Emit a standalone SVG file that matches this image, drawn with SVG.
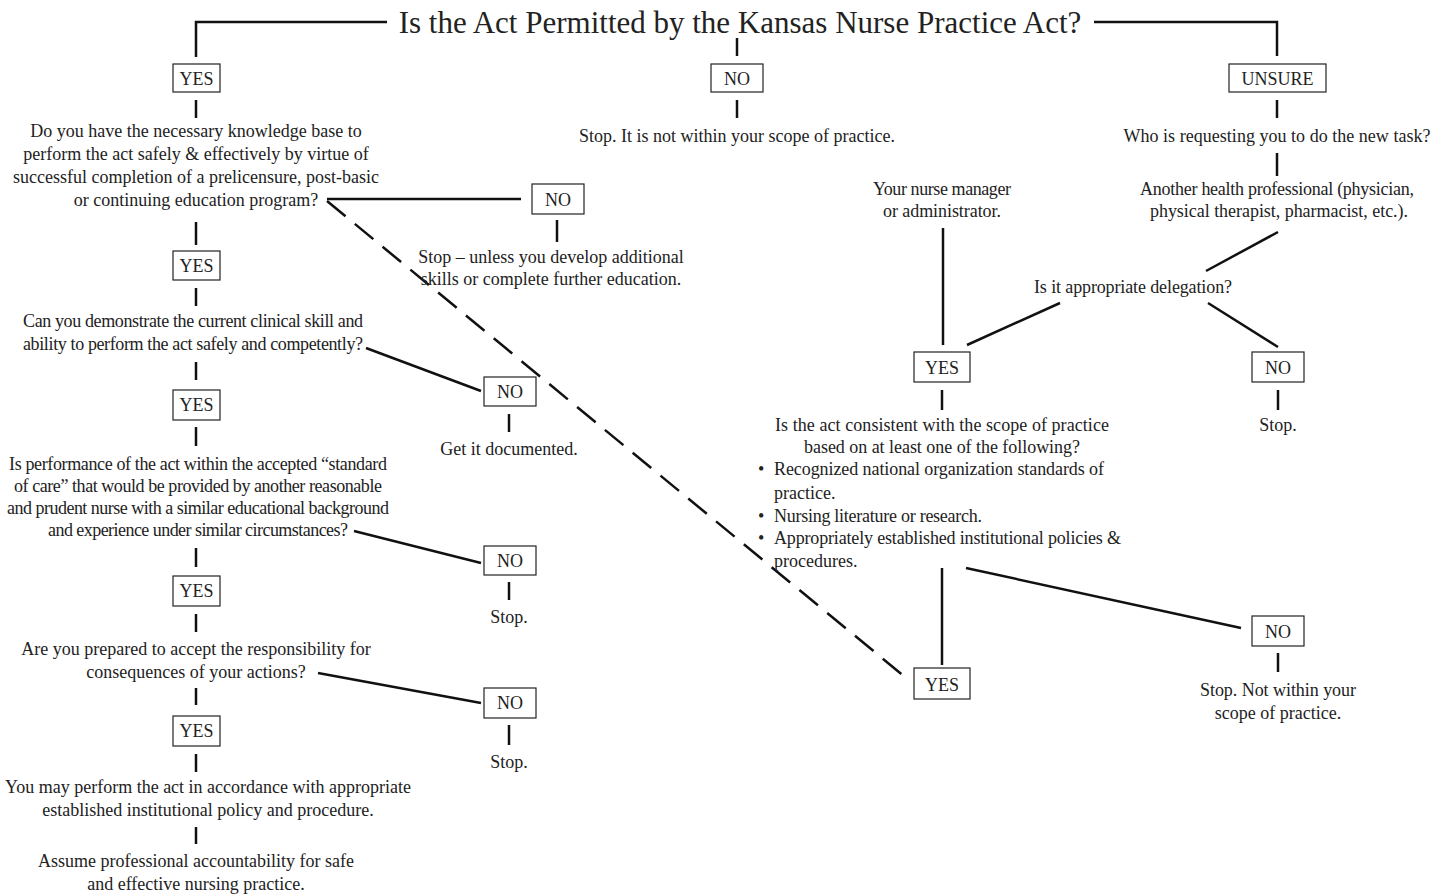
<svg xmlns="http://www.w3.org/2000/svg" width="1447" height="896" viewBox="0 0 1447 896">
<style>
text{font-family:"Liberation Serif","Times New Roman",serif;font-size:18px;fill:#222;}
.c{text-anchor:middle;}
.title{font-size:31px;}
.box{fill:#fff;stroke:#222;stroke-width:1.2;}
.ln{stroke:#111;stroke-width:2.5;fill:none;}
.dash{stroke:#111;stroke-width:2.5;fill:none;stroke-dasharray:24 12;}
</style>
<rect width="1447" height="896" fill="#fff"/>
<g id="connectors">
<polyline class="ln" points="196,57 196,22 387,22"/>
<polyline class="ln" points="1094,22 1277,22 1277,56"/>
<line class="ln" x1="737" y1="38" x2="737" y2="56"/>
<line class="ln" x1="196" y1="100" x2="196" y2="118"/>
<line class="ln" x1="196" y1="222" x2="196" y2="245"/>
<line class="ln" x1="196" y1="288" x2="196" y2="306"/>
<line class="ln" x1="196" y1="362" x2="196" y2="380"/>
<line class="ln" x1="196" y1="427" x2="196" y2="446"/>
<line class="ln" x1="196" y1="548" x2="196" y2="567"/>
<line class="ln" x1="196" y1="614" x2="196" y2="632"/>
<line class="ln" x1="196" y1="688" x2="196" y2="705"/>
<line class="ln" x1="196" y1="754" x2="196" y2="772"/>
<line class="ln" x1="196" y1="827" x2="196" y2="844"/>
<line class="ln" x1="327" y1="199" x2="521" y2="199"/>
<line class="ln" x1="557" y1="220" x2="557" y2="242"/>
<line class="ln" x1="366" y1="348" x2="481" y2="391"/>
<line class="ln" x1="509" y1="414" x2="509" y2="432"/>
<line class="ln" x1="354" y1="531" x2="481" y2="563"/>
<line class="ln" x1="509" y1="582" x2="509" y2="600"/>
<line class="ln" x1="318" y1="673" x2="481" y2="703"/>
<line class="ln" x1="509" y1="725" x2="509" y2="745"/>
<line class="dash" x1="327" y1="201" x2="905" y2="677"/>
<line class="ln" x1="737" y1="100" x2="737" y2="118"/>
<line class="ln" x1="1277" y1="100" x2="1277" y2="118"/>
<line class="ln" x1="1277" y1="153" x2="1277" y2="176"/>
<line class="ln" x1="1278" y1="232" x2="1206" y2="271"/>
<line class="ln" x1="943" y1="228" x2="943" y2="345"/>
<line class="ln" x1="1060" y1="303" x2="967" y2="345"/>
<line class="ln" x1="1208" y1="303" x2="1278" y2="347"/>
<line class="ln" x1="942" y1="390" x2="942" y2="410"/>
<line class="ln" x1="1278" y1="390" x2="1278" y2="410"/>
<line class="ln" x1="942" y1="568" x2="942" y2="665"/>
<line class="ln" x1="966" y1="568" x2="1241" y2="628"/>
<line class="ln" x1="1278" y1="653" x2="1278" y2="672"/>
</g>
<g id="title"><text class="c title" x="740" y="33">Is the Act Permitted by the Kansas Nurse Practice Act?</text></g>
<g id="yes-top"><rect class="box" x="173" y="64" width="47" height="28"/><text class="c" x="196.5" y="85">YES</text></g>
<g id="no-top"><rect class="box" x="711" y="64" width="52" height="28"/><text class="c" x="737" y="85">NO</text></g>
<g id="unsure-top"><rect class="box" x="1229" y="64" width="97" height="28"/><text class="c" x="1277.5" y="85">UNSURE</text></g>
<g id="q1"><text class="c" x="196" y="137">Do you have the necessary knowledge base to</text><text class="c" x="196" y="160">perform the act safely &amp; effectively by virtue of</text><text class="c" x="196" y="183">successful completion of a prelicensure, post-basic</text><text class="c" x="196" y="206">or continuing education program?</text></g>
<g id="yes1"><rect class="box" x="173" y="251" width="47" height="29"/><text class="c" x="196.5" y="272">YES</text></g>
<g id="q2"><text class="c" x="193" y="327" textLength="340">Can you demonstrate the current clinical skill and</text><text class="c" x="193" y="350" textLength="340">ability to perform the act safely and competently?</text></g>
<g id="yes2"><rect class="box" x="173" y="390" width="47" height="30"/><text class="c" x="196.5" y="411">YES</text></g>
<g id="q3"><text class="c" x="198" y="470" textLength="378">Is performance of the act within the accepted “standard</text><text class="c" x="198" y="492" textLength="368">of care” that would be provided by another reasonable</text><text class="c" x="198" y="514" textLength="382">and prudent nurse with a similar educational background</text><text class="c" x="198" y="536" textLength="300">and experience under similar circumstances?</text></g>
<g id="yes3"><rect class="box" x="173" y="576" width="47" height="30"/><text class="c" x="196.5" y="597">YES</text></g>
<g id="q4"><text class="c" x="196" y="655">Are you prepared to accept the responsibility for</text><text class="c" x="196" y="678">consequences of your actions?</text></g>
<g id="yes4"><rect class="box" x="173" y="716" width="47" height="30"/><text class="c" x="196.5" y="737">YES</text></g>
<g id="perform"><text class="c" x="208" y="793">You may perform the act in accordance with appropriate</text><text class="c" x="208" y="816">established institutional policy and procedure.</text></g>
<g id="assume"><text class="c" x="196" y="867">Assume professional accountability for safe</text><text class="c" x="196" y="890">and effective nursing practice.</text></g>
<g id="no1"><rect class="box" x="532" y="184" width="52" height="30"/><text class="c" x="558" y="206">NO</text></g>
<g id="stop-unless"><text class="c" x="551" y="263">Stop – unless you develop additional</text><text class="c" x="551" y="285">skills or complete further education.</text></g>
<g id="no2"><rect class="box" x="484" y="377" width="52" height="29"/><text class="c" x="510" y="398">NO</text></g>
<g id="documented"><text class="c" x="509" y="455">Get it documented.</text></g>
<g id="no3"><rect class="box" x="484" y="546" width="52" height="29"/><text class="c" x="510" y="567">NO</text></g>
<g id="stop3"><text class="c" x="509" y="623">Stop.</text></g>
<g id="no4"><rect class="box" x="484" y="688" width="52" height="30"/><text class="c" x="510" y="709">NO</text></g>
<g id="stop4"><text class="c" x="509" y="768">Stop.</text></g>
<g id="stop-no-top"><text class="c" x="737" y="142">Stop. It is not within your scope of practice.</text></g>
<g id="who"><text class="c" x="1277" y="142" textLength="307">Who is requesting you to do the new task?</text></g>
<g id="another"><text class="c" x="1277" y="195" textLength="274">Another health professional (physician,</text><text class="c" x="1279" y="217" textLength="258">physical therapist, pharmacist, etc.).</text></g>
<g id="manager"><text class="c" x="942" y="195" textLength="138">Your nurse manager</text><text class="c" x="942" y="217" textLength="118">or administrator.</text></g>
<g id="delegation"><text class="c" x="1133" y="293" textLength="198">Is it appropriate delegation?</text></g>
<g id="yes-r1"><rect class="box" x="914" y="352" width="56" height="30"/><text class="c" x="942" y="374">YES</text></g>
<g id="no-r1"><rect class="box" x="1252" y="352" width="52" height="30"/><text class="c" x="1278" y="374">NO</text></g>
<g id="stop-r1"><text class="c" x="1278" y="431">Stop.</text></g>
<g id="consistent"><text class="c" x="942" y="431" textLength="334">Is the act consistent with the scope of practice</text><text class="c" x="942" y="453" textLength="276">based on at least one of the following?</text>
<text x="758" y="475">•</text><text x="774" y="475" textLength="330">Recognized national organization standards of</text><text x="774" y="499">practice.</text>
<text x="758" y="522">•</text><text x="774" y="522" textLength="208">Nursing literature or research.</text>
<text x="758" y="544">•</text><text x="774" y="544" textLength="347">Appropriately established institutional policies &amp;</text><text x="774" y="567">procedures.</text></g>
<g id="yes-r2"><rect class="box" x="914" y="668" width="56" height="31"/><text class="c" x="942" y="691">YES</text></g>
<g id="no-r2"><rect class="box" x="1252" y="616" width="52" height="30"/><text class="c" x="1278" y="638">NO</text></g>
<g id="stop-r2"><text class="c" x="1278" y="696" textLength="156">Stop. Not within your</text><text class="c" x="1278" y="719">scope of practice.</text></g>
</svg>
